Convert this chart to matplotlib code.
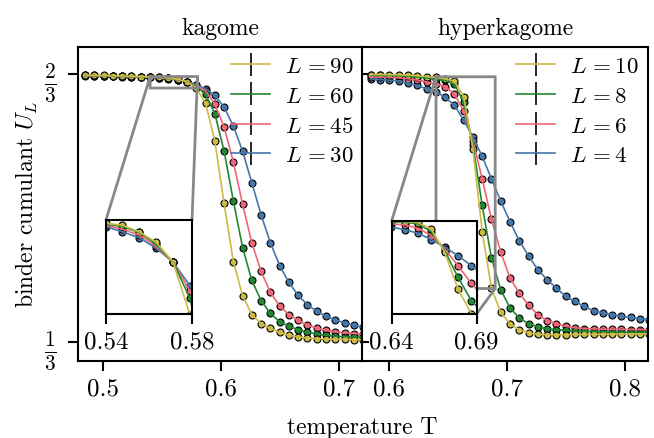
import numpy as np
import matplotlib
matplotlib.use('Agg')
import matplotlib.pyplot as plt

plt.rcParams['font.family'] = ['cmr10']
plt.rcParams['mathtext.fontset'] = 'cm'
plt.rcParams['axes.formatter.use_mathtext'] = True
plt.rcParams['axes.unicode_minus'] = False

# ---------------- data ----------------
T_kag = np.linspace(0.485, 0.72, 31)
T_hyp = np.linspace(0.585, 0.82, 31)

kag_labels = [r'$L\,= 90$', r'$L\,= 60$', r'$L\,= 45$', r'$L\,= 30$']
hyp_labels = [r'$L\,= 10$', r'$L\,= 8$', r'$L\,= 6$', r'$L\,= 4$']
colors = ['#CCBB44', '#228833', '#EE6677', '#4477AA']

kag_L90 = [0.6650, 0.6648, 0.6646, 0.6643, 0.6640, 0.6636, 0.6632, 0.6628, 0.6625, 0.6615,
           0.6599, 0.6569, 0.6489, 0.6303, 0.5833, 0.5058, 0.4335, 0.3911, 0.3676, 0.3564,
           0.3505, 0.3455, 0.3419, 0.3400, 0.3387, 0.3379, 0.3373, 0.3370, 0.3368, 0.3367, 0.3366]
kag_L60 = [0.6648, 0.6646, 0.6644, 0.6641, 0.6638, 0.6634, 0.6630, 0.6627, 0.6623, 0.6614,
           0.6596, 0.6569, 0.6514, 0.6411, 0.6172, 0.5709, 0.5089, 0.4509, 0.4100, 0.3849,
           0.3690, 0.3589, 0.3531, 0.3490, 0.3457, 0.3437, 0.3419, 0.3407, 0.3403, 0.3400, 0.3398]
kag_L45 = [0.6646, 0.6644, 0.6642, 0.6639, 0.6636, 0.6632, 0.6628, 0.6625, 0.6619, 0.6610,
           0.6593, 0.6569, 0.6525, 0.6452, 0.6296, 0.6006, 0.5573, 0.5047, 0.4563, 0.4212,
           0.3952, 0.3783, 0.3676, 0.3605, 0.3543, 0.3511, 0.3481, 0.3462, 0.3449, 0.3441, 0.3437]
kag_L30 = [0.6642, 0.6640, 0.6638, 0.6635, 0.6632, 0.6628, 0.6625, 0.6623, 0.6615, 0.6606,
           0.6590, 0.6569, 0.6533, 0.6481, 0.6398, 0.6254, 0.6018, 0.5705, 0.5313, 0.4913,
           0.4568, 0.4285, 0.4075, 0.3915, 0.3799, 0.3717, 0.3655, 0.3614, 0.3573, 0.3543, 0.3523]

hyp_L10 = [0.6658, 0.6658, 0.6655, 0.6655, 0.6650, 0.6643, 0.6633, 0.6622, 0.6605, 0.6575,
           0.6385, 0.5739, 0.4705, 0.4006, 0.3704, 0.3560, 0.3490, 0.3449, 0.3432, 0.3428,
           0.3428, 0.3428, 0.3430, 0.3430, 0.3432, 0.3433, 0.3434, 0.3435, 0.3436, 0.3436, 0.3437]
hyp_L8 = [0.6648, 0.6647, 0.6645, 0.6642, 0.6637, 0.6628, 0.6615, 0.6602, 0.6585, 0.6537,
          0.6320, 0.5784, 0.5033, 0.4377, 0.3985, 0.3758, 0.3634, 0.3564, 0.3523, 0.3502,
          0.3490, 0.3483, 0.3474, 0.3470, 0.3466, 0.3463, 0.3460, 0.3459, 0.3458, 0.3457, 0.3457]
hyp_L6 = [0.6628, 0.6626, 0.6622, 0.6616, 0.6606, 0.6590, 0.6568, 0.6540, 0.6509, 0.6416,
          0.6207, 0.5832, 0.5362, 0.4860, 0.4452, 0.4130, 0.3945, 0.3791, 0.3676, 0.3601,
          0.3564, 0.3531, 0.3511, 0.3503, 0.3498, 0.3495, 0.3493, 0.3492, 0.3491, 0.3490, 0.3490]
hyp_L4 = [0.6605, 0.6596, 0.6588, 0.6576, 0.6555, 0.6522, 0.6481, 0.6444, 0.6376, 0.6275,
          0.6094, 0.5880, 0.5643, 0.5362, 0.5087, 0.4830, 0.4592, 0.4406, 0.4233, 0.4109,
          0.4006, 0.3902, 0.3840, 0.3778, 0.3725, 0.3697, 0.3676, 0.3655, 0.3642, 0.3626, 0.3614]

kag_series = [kag_L90, kag_L60, kag_L45, kag_L30]
hyp_series = [hyp_L10, hyp_L8, hyp_L6, hyp_L4]

FS = 17      # labels / titles
TFS = 18     # tick labels
LW_SP = 1.5

fig = plt.figure(figsize=(6.54, 4.39), dpi=100)
axL = fig.add_axes([0.1193, 0.1754, 0.4358, 0.7153])
axR = fig.add_axes([0.5535, 0.1754, 0.4373, 0.7153], sharey=axL)


def draw_series(ax, T, series, labels, with_label=True):
    # draw from last (smallest L) to first so the largest L is on top
    for U, lab, c in list(zip(series, labels, colors))[::-1]:
        U = np.asarray(U)
        ax.errorbar(T, U, yerr=np.zeros_like(U), color=c, ecolor='k', elinewidth=1.2,
                    lw=1.2, label=lab if with_label else None)
        ax.plot(T, U, 'o', ms=5.0, mfc=c, mec='k', mew=0.8, ls='none')


def style_spines(ax):
    for s in ax.spines.values():
        s.set_linewidth(LW_SP)


def make_inset(ax, T, series, bounds, xlim, ylim, xticks, xticklabels):
    ins = ax.inset_axes(bounds)
    draw_series(ins, T, series, kag_labels, with_label=False)
    ins.set_xlim(*xlim)
    ins.set_ylim(*ylim)
    ins.set_xticks(xticks)
    ins.set_xticklabels(xticklabels)
    ins.set_yticks([])
    ins.tick_params(axis='x', direction='out', length=7, width=1.5, labelsize=TFS, pad=5)
    style_spines(ins)
    ax.indicate_inset_zoom(ins, edgecolor='#888888', alpha=1, linewidth=2)
    return ins


for ax, T, series, labels, title, xlim, xt in [
        (axL, T_kag, kag_series, kag_labels, 'kagome', (0.479, 0.720), [0.5, 0.6, 0.7]),
        (axR, T_hyp, hyp_series, hyp_labels, 'hyperkagome', (0.5775, 0.819), [0.6, 0.7, 0.8])]:
    draw_series(ax, T, series, labels)
    ax.set_xlim(*xlim)
    ax.set_xticks(xt)
    ax.set_xticklabels([f'{v:.1f}' for v in xt])
    ax.set_title(title, fontsize=FS, pad=9)
    ax.tick_params(axis='x', direction='out', length=7, width=1.5, labelsize=TFS, pad=5)
    style_spines(ax)
    h, l = ax.get_legend_handles_labels()
    h, l = h[::-1], l[::-1]
    ax.legend(h, l, loc='upper right', frameon=False, fontsize=16.5, handlelength=1.7,
              labelspacing=0.42, borderpad=0.2, borderaxespad=0.2, handletextpad=0.65)

axL.set_ylim(0.31, 0.70)
axL.set_yticks([1/3, 2/3])
axL.set_yticklabels([r'$\frac{1}{3}$', r'$\frac{2}{3}$'])
axL.tick_params(axis='y', direction='out', length=7, width=1.5, labelsize=22, pad=8)
axL.set_ylabel(r'binder cumulant $U_L$', fontsize=FS, labelpad=3)
axR.tick_params(axis='y', direction='in', length=5, width=1.5, labelleft=False)

make_inset(axL, T_kag, kag_series, [0.098, 0.150, 0.302, 0.299],
           (0.54, 0.58), (0.649, 0.6633), [0.54, 0.58], ['0.54', '0.58'])
make_inset(axR, T_hyp, hyp_series, [0.104, 0.150, 0.297, 0.297],
           (0.64, 0.69), (0.40, 0.663), [0.64, 0.69], ['0.64', '0.69'])

fig.text(0.5535, 0.025, 'temperature T', ha='center', va='center', fontsize=FS)

fig.savefig('out.png', dpi=100)
